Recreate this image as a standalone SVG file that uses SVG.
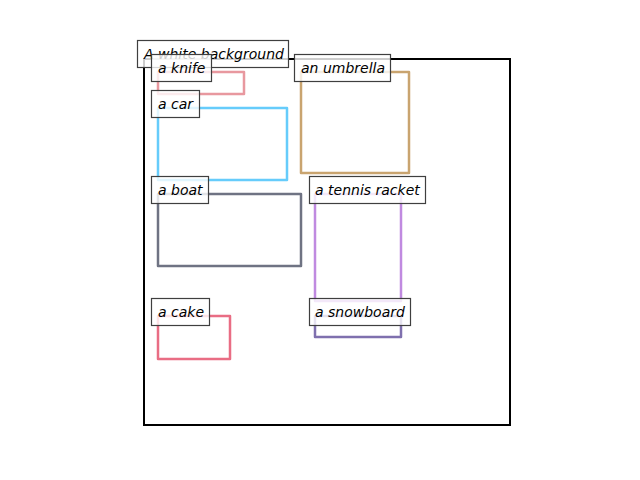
<svg xmlns="http://www.w3.org/2000/svg" width="640" height="480" viewBox="0 0 640 480">
<style>
.box{fill:none;stroke-width:2.5;stroke-linejoin:round}
.lbl rect{fill:#ffffff;fill-opacity:0.8;stroke:#3f3f3f;stroke-width:1.2}
.lbl text{font-family:"DejaVu Sans",sans-serif;font-style:oblique;font-size:14px;fill:#000}
</style>
<rect width="640" height="480" fill="#fff"/>
<g id="frame"><rect x="144" y="59" width="366" height="366" fill="none" stroke="#000" stroke-width="2"/></g>
<g id="background" class="lbl"><rect x="137.5" y="40.5" width="151" height="27"/><text x="144" y="59">A white background</text></g>
<g id="knife"><rect class="box" x="158" y="72" width="86" height="22" stroke="#e8989f"/></g>
<g id="knife-label" class="lbl"><rect x="151.5" y="54.5" width="60" height="27"/><text x="158" y="73">a knife</text></g>
<g id="car"><rect class="box" x="158" y="108" width="129" height="72" stroke="#66ccfb"/></g>
<g id="car-label" class="lbl"><rect x="151.5" y="90.5" width="48" height="27"/><text x="158" y="109">a car</text></g>
<g id="umbrella"><rect class="box" x="301" y="72" width="108" height="101" stroke="#c9a46f"/></g>
<g id="umbrella-label" class="lbl"><rect x="294.5" y="54.5" width="96" height="27"/><text x="301" y="73">an umbrella</text></g>
<g id="boat"><rect class="box" x="158" y="194" width="143" height="72" stroke="#6f7383"/></g>
<g id="boat-label" class="lbl"><rect x="151.5" y="176.5" width="57" height="27"/><text x="158" y="195">a boat</text></g>
<g id="racket"><rect class="box" x="315" y="194" width="86" height="107" stroke="#c08ae0"/></g>
<g id="racket-label" class="lbl"><rect x="309.5" y="176.5" width="116" height="27"/><text x="315" y="195">a tennis racket</text></g>
<g id="cake"><rect class="box" x="158" y="316" width="72" height="43" stroke="#e96d84"/></g>
<g id="cake-label" class="lbl"><rect x="151.5" y="298.5" width="58" height="27"/><text x="158" y="317">a cake</text></g>
<g id="snowboard"><rect class="box" x="315" y="316" width="86" height="21" stroke="#7f70ae"/></g>
<g id="snowboard-label" class="lbl"><rect x="309.5" y="298.5" width="101" height="27"/><text x="315" y="317">a snowboard</text></g>
<g id="connectors"/>
</svg>
